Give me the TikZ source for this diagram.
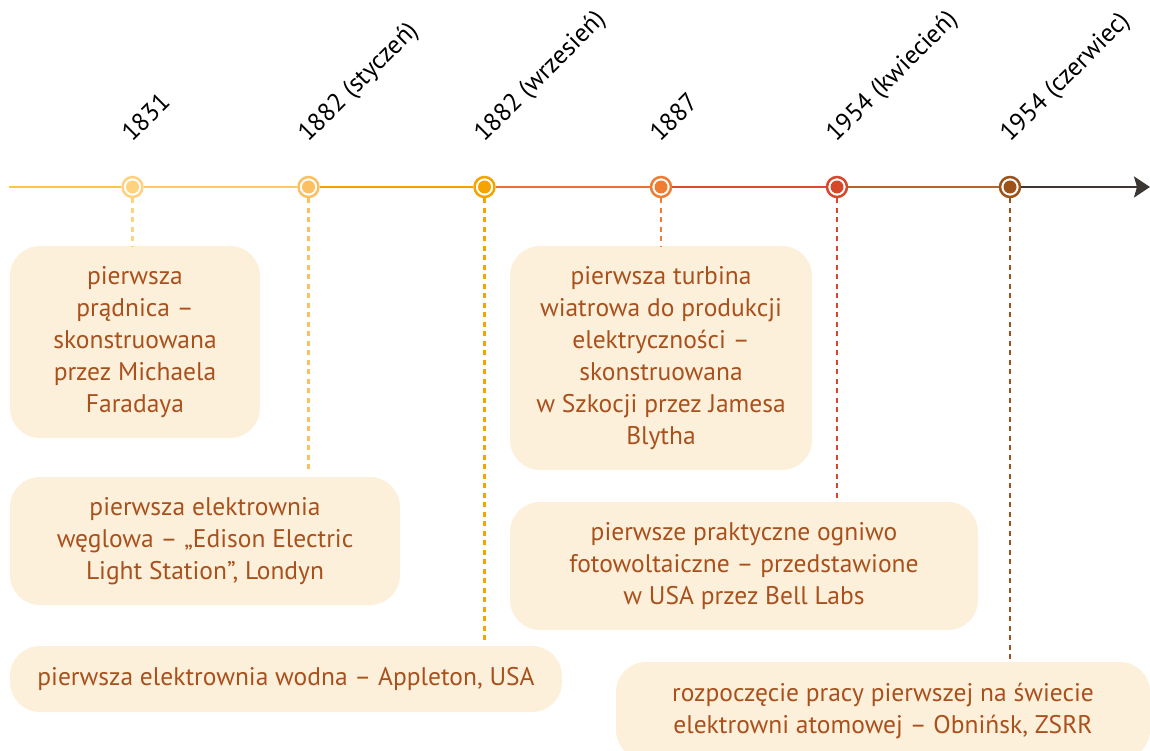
\documentclass[tikz,border=0pt]{standalone}
\usepackage{fontspec}
\setmainfont{PT Sans}
\usetikzlibrary{arrows.meta}
\definecolor{boxfill}{HTML}{FDF0DB}
\definecolor{txt}{HTML}{A8511D}
\definecolor{c1}{HTML}{FED27E}
\definecolor{c2}{HTML}{FBC062}
\definecolor{c3}{HTML}{F5A300}
\definecolor{c4}{HTML}{EE7D32}
\definecolor{c5}{HTML}{D6482B}
\definecolor{c6}{HTML}{9C5219}
\definecolor{l0}{HTML}{FDC54A}
\definecolor{l1}{HTML}{FDC76C}
\definecolor{l2}{HTML}{F5A200}
\definecolor{l3}{HTML}{EF6F3C}
\definecolor{l4}{HTML}{DC4A33}
\definecolor{l5}{HTML}{B0662C}
\definecolor{l6}{HTML}{3B3533}
\begin{document}
\begin{tikzpicture}[x=1pt,y=-1pt,
  box/.style={fill=boxfill, rounded corners=30pt, text=txt, align=center,
    font=\fontsize{25.5}{32}\selectfont, inner sep=0pt},
  dot/.style={circle, minimum size=20pt, inner sep=0pt, line width=2.5pt, draw=#1, fill=white,
    path picture={\fill[#1] (path picture bounding box.center) circle (6.5pt);}},
  yr/.style={rotate=45, anchor=base west, inner sep=0pt, font=\fontsize{25.5}{28}\selectfont},
  conn/.style={dash pattern=on 5pt off 4.5pt, line width=2.5pt, draw=#1},
  seg/.style={line width=2.5pt, draw=#1}
]
\useasboundingbox (0,0) rectangle (1150,751);
\clip (0,0) rectangle (1150,751);

% boxes
\node[box, minimum width=250pt, minimum height=192pt] (b1) at (135,342)
  {pierwsza\\prądnica –\\skonstruowana\\przez Michaela\\Faradaya};
\node[box, minimum width=390pt, minimum height=128pt] (b2) at (205,541)
  {pierwsza elektrownia\\węglowa – „Edison Electric\\Light Station”, Londyn};
\node[box, minimum width=552pt, minimum height=66pt] (b3) at (286,679)
  {pierwsza elektrownia wodna – Appleton, USA};
\node[box, minimum width=302pt, minimum height=224pt] (b4) at (661,358)
  {pierwsza turbina\\wiatrowa do produkcji\\elektryczności –\\skonstruowana\\w Szkocji przez Jamesa\\Blytha};
\node[box, minimum width=468pt, minimum height=128pt] (b5) at (744,566)
  {pierwsze praktyczne ogniwo\\fotowoltaiczne – przedstawione\\w USA przez Bell Labs};
\node[box, minimum width=534pt, minimum height=98pt] (b6) at (883,711)
  {rozpoczęcie pracy pierwszej na świecie\\elektrowni atomowej – Obnińsk, ZSRR};

% dots
\node[dot=c1] (d1) at (132.5,187) {};
\node[dot=c2] (d2) at (308.5,187) {};
\node[dot=c3] (d3) at (484.5,187) {};
\node[dot=c4] (d4) at (661,187) {};
\node[dot=c5] (d5) at (837,187) {};
\node[dot=c6] (d6) at (1010,187) {};
\coordinate (start) at (9,187);
\coordinate (end) at (1150,187);

% timeline
\draw[seg=l0] (start) -- (d1);
\draw[seg=l1] (d1) -- (d2);
\draw[seg=l2] (d2) -- (d3);
\draw[seg=l3] (d3) -- (d4);
\draw[seg=l4] (d4) -- (d5);
\draw[seg=l5] (d5) -- (d6);
\draw[seg=l6, -{Stealth[length=16pt, width=21pt, inset=3pt]}] (d6) -- (end);

% connectors
\draw[conn=c1] (d1) -- (d1 |- b1.north);
\coordinate (e2) at (308.5,471);
\draw[conn=c2] (d2) -- (e2);
\coordinate (e3) at (484.5,644);
\draw[conn=c3] (d3) -- (e3);
\draw[conn=c4] (d4) -- (d4 |- b4.north);
\coordinate (e5) at (837,500);
\draw[conn=c5] (d5) -- (e5);
\coordinate (e6) at (1010,661);
\draw[conn=c6] (d6) -- (e6);

% year labels
\node[yr] (y1) at (132,143) {1831};
\node[yr] (y2) at (308,143) {1882 (styczeń)};
\node[yr] (y3) at (484,143) {1882 (wrzesień)};
\node[yr] (y4) at (660,143) {1887};
\node[yr] (y5) at (836,143) {1954 (kwiecień)};
\node[yr] (y6) at (1010,143) {1954 (czerwiec)};
\end{tikzpicture}
\end{document}
